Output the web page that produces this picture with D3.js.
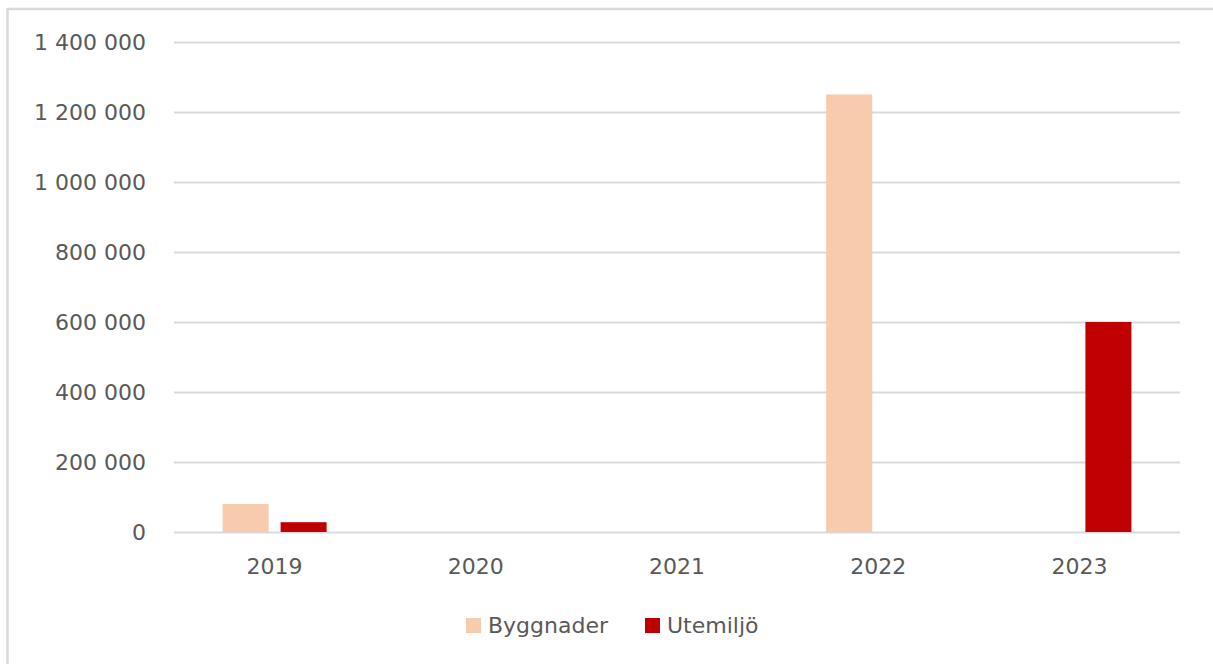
<!DOCTYPE html>
<html>
<head>
<meta charset="utf-8">
<script src="https://cdn.jsdelivr.net/npm/d3@7"></script>
<style>
  body { margin: 0; background: #fff; }
  svg text { font-family: "DejaVu Sans", sans-serif; fill: #595959; }
</style>
</head>
<body>
<script>
// data
const years = ["2019", "2020", "2021", "2022", "2023"];
const seriesNames = ["Byggnader", "Utemiljö"];
const byggnader = [80000, 0, 0, 1250000, 0];
const utemiljo = [28000, 0, 0, 0, 600000];
const yTicks = [0, 200000, 400000, 600000, 800000, 1000000, 1200000, 1400000];
const colors = ["#F8CBAD", "#C00000"];

const width = 1213, height = 664;
const plot = {left: 174, right: 1180, top: 42, bottom: 532};

const svg = d3.select("body").append("svg")
  .attr("width", width)
  .attr("height", height);

// frame (cut off at right / bottom like the picture)
svg.append("rect")
  .attr("x", 7.5).attr("y", 9)
  .attr("width", 1400).attr("height", 800)
  .attr("fill", "none")
  .attr("stroke", "#d9d9d9")
  .attr("stroke-width", 2.5);

const locale = d3.formatLocale({decimal: ",", thousands: " ", grouping: [3], currency: ["", " kr"]});
const fmt = locale.format(",d");

const xScale = d3.scaleBand()
  .domain(years)
  .range([plot.left, plot.right])
  .paddingInner(0.483)
  .paddingOuter(0.2415);
const xInner = d3.scaleBand()
  .domain(seriesNames)
  .range([0, xScale.bandwidth()])
  .paddingInner(0.207);
const yScale = d3.scaleLinear()
  .domain([0, 1400000])
  .range([plot.bottom, plot.top]);

// gridlines + y labels
const yAxis = svg.append("g")
  .attr("transform", "translate(" + plot.left + ",0)")
  .call(d3.axisLeft(yScale)
    .tickValues(yTicks)
    .tickFormat(fmt)
    .tickSize(-(plot.right - plot.left))
    .tickPadding(28));
yAxis.select(".domain").remove();
yAxis.selectAll("line").attr("stroke", "#d9d9d9").attr("stroke-width", 2);
yAxis.selectAll("text").attr("font-size", 22).attr("font-family", "DejaVu Sans").attr("fill", "#595959");

// x labels
const xAxis = svg.append("g")
  .attr("transform", "translate(0," + plot.bottom + ")")
  .call(d3.axisBottom(xScale).tickSize(0).tickPadding(26));
xAxis.select(".domain").remove();
xAxis.selectAll("text").attr("font-size", 22).attr("font-family", "DejaVu Sans").attr("fill", "#595959");

// bars
const rows = years.map((y, i) => ({year: y, values: [byggnader[i], utemiljo[i]]}));
const groups = svg.append("g").selectAll("g")
  .data(rows)
  .join("g")
  .attr("transform", d => "translate(" + xScale(d.year) + ",0)");
groups.selectAll("rect")
  .data(d => d.values.map((v, j) => ({name: seriesNames[j], value: v, color: colors[j]})))
  .join("rect")
  .filter(d => d.value > 0)
  .attr("x", d => xInner(d.name))
  .attr("width", xInner.bandwidth())
  .attr("y", d => yScale(d.value))
  .attr("height", d => yScale(0) - yScale(d.value))
  .attr("fill", d => d.color);

// legend
const legendX = [466, 645];
const legend = svg.append("g").selectAll("g")
  .data(seriesNames)
  .join("g")
  .attr("transform", (d, i) => "translate(" + legendX[i] + ",618)");
legend.append("rect")
  .attr("width", 15).attr("height", 15)
  .attr("fill", (d, i) => colors[i]);
legend.append("text")
  .attr("x", 22).attr("y", 7.5)
  .attr("dy", "0.35em")
  .attr("font-size", 22)
  .text(d => d);
</script>
</body>
</html>
